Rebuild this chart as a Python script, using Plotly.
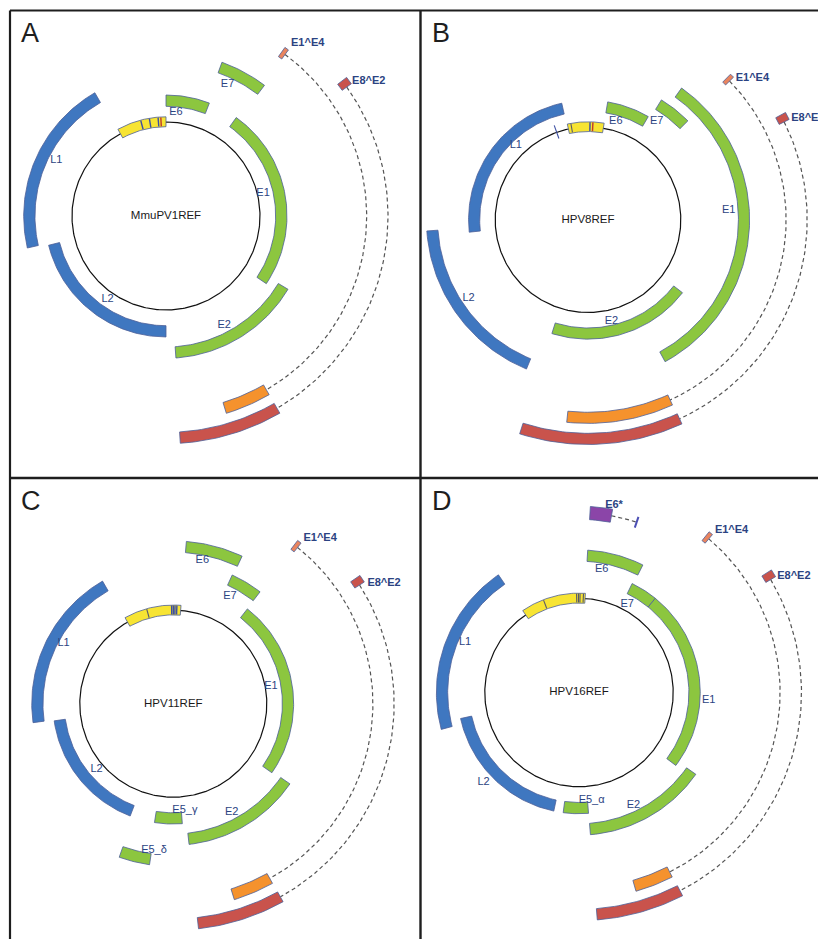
import math
import plotly.graph_objects as go

W, H = 818, 939

# ================= DATA (angles: degrees clockwise from 12 o'clock) =================
# ---- Panel A : MmuPV1REF ----
A_name = "MmuPV1REF"
A_genes = ["E6", "E7", "E1", "E2", "L2", "L1"]
A_start = [0.0, 20.0, 35.5, 121.0, 180.0, 257.0]
A_end = [21.0, 37.0, 124.0, 176.0, 256.0, 330.0]
A_track = [1, 3, 1, 2, 1, 2]
A_label_angle = [5.5, 25.0, 77.0, 152.0, 215.0, 297.0]
A_label_r = [1.11, 1.55, 1.06, 1.32, 1.085, 1.31]
A_urr = [-29.0, 0.0]
A_urr_sites = [-14.8, -9.7, -4.6, -3.0]
A_urr_kind = ["m", "m", "m", "p"]
A_splice = ["E1^E4", "E8^E2"]
A_exon1_start = [35.2, 52.5]
A_exon1_end = [36.4, 54.5]
A_exon2_start = [150.0, 150.0]
A_exon2_end = [163.0, 176.4]
A_splice_track = [5, 6]
A_splice_label_angle = [39.3, 56.4]
A_splice_label_r = [2.38, 2.59]

# ---- Panel B : HPV8REF ----
B_name = "HPV8REF"
B_genes = ["E6", "E7", "E1", "E2", "L2", "L1"]
B_start = [9.5, 31.5, 35.4, 127.7, 202.4, 264.0]
B_end = [30.3, 45.3, 151.5, 197.6, 266.0, 347.3]
B_track = [1, 2, 3, 1, 3, 1]
B_label_angle = [15.8, 35.0, 86.0, 167.0, 236.7, 316.0]
B_label_r = [1.10, 1.29, 1.52, 1.12, 1.54, 1.12]
B_urr = [-12.2, 9.5]
B_urr_sites = [-19.7, -10.1, 1.2, 2.9]
B_urr_kind = ["t", "d", "m", "p"]
B_splice = ["E1^E4", "E8^E2"]
B_exon1_start = [44.4, 61.5]
B_exon1_end = [45.6, 63.5]
B_exon2_start = [155.5, 155.3]
B_exon2_end = [186.0, 197.7]
B_splice_track = [5, 6]
B_splice_label_angle = [49.3, 65.2]
B_splice_label_r = [2.336, 2.61]

# ---- Panel C : HPV11REF ----
C_name = "HPV11REF"
C_genes = ["E6", "E7", "E1", "E2", "E5_γ", "E5_δ", "L2", "L1"]
C_start = [4.6, 24.6, 38.0, 124.5, 175.7, 188.4, 201.0, 262.3]
C_end = [25.0, 37.8, 125.0, 173.6, 189.0, 199.4, 261.8, 330.0]
C_track = [3, 2, 1, 2, 1, 3, 1, 2]
C_label_angle = [11.4, 27.8, 80.0, 151.8, 173.8, 187.5, 229.4, 298.9]
C_label_r = [1.57, 1.30, 1.06, 1.32, 1.15, 1.58, 1.08, 1.34]
C_urr = [-29.3, 4.5]
C_urr_sites = [-15.7, -1.0, 0.0, 1.0, 2.1]
C_urr_kind = ["d", "m", "m", "m", "m"]
C_splice = ["E1^E4", "E8^E2"]
C_exon1_start = [37.3, 55.5]
C_exon1_end = [38.5, 57.5]
C_exon2_start = [151.1, 151.0]
C_exon2_end = [162.7, 173.6]
C_splice_track = [5, 6]
C_splice_label_angle = [41.6, 60.3]
C_splice_label_r = [2.365, 2.595]

# ---- Panel D : HPV16REF ----
D_name = "HPV16REF"
D_genes = ["E6", "E7", "E1", "E2", "E5_α", "L2", "L1"]
D_start = [3.5, 26.0, 39.0, 125.0, 175.5, 192.0, 255.0]
D_end = [26.6, 39.0, 127.0, 175.4, 187.5, 257.6, 325.6]
D_track = [2, 1, 1, 2, 1, 1, 2]
D_label_angle = [10.4, 28.6, 93.6, 154.2, 173.3, 226.8, 293.6]
D_label_r = [1.33, 1.07, 1.38, 1.33, 1.15, 1.39, 1.32]
D_urr = [-34.5, 3.7]
D_urr_sites = [-21.0, -1.4, -0.3, 0.6, 2.6]
D_urr_kind = ["d", "g", "g", "g", "g"]
D_splice = ["E6*", "E1^E4", "E8^E2"]
D_exon1_start = [3.5, 39.0, 57.5]
D_exon1_end = [10.4, 40.2, 59.5]
D_exon2_start = [18.5, 153.2, 153.0]
D_exon2_end = [18.9, 164.0, 175.4]
D_splice_track = [4, 5, 6]
D_splice_label_angle = [10.6, 43.2, 61.5]
D_splice_label_r = [2.02, 2.366, 2.596]

# ================= STYLE / LAYOUT =================
GENE_COLOR = {"L": "#3f77c0", "E": "#8cc63f"}
URR_COLOR = "#f7e433"
SITE_COLOR = {"m": "#3d4fa3", "p": "#c0392b", "d": "#5a5a6a", "g": "#55586a", "t": "#3d4fa3"}
SPLICE_COLOR = {"E1^E4": ("#e9845e", "#f5922d"),
                "E8^E2": ("#c9534c", "#c9534c"),
                "E6*": ("#8b45a8", "#4b4fb5")}
OUTLINE = "#4d5f98"
LABEL_COLOR = "#2b4382"
FONT = "Liberation Sans, Arial, sans-serif"
TRACK_STEP = 0.227
HALF_T = 0.06

panels = [
    dict(letter="A", rect=(11, 11, 419, 477), c=(166.0, 216.0), R=94.0, name=A_name,
         genes=A_genes, start=A_start, end=A_end, track=A_track, la=A_label_angle, lr=A_label_r,
         urr=A_urr, sites=A_urr_sites, kinds=A_urr_kind, sp=A_splice, e1s=A_exon1_start,
         e1e=A_exon1_end, e2s=A_exon2_start, e2e=A_exon2_end, st=A_splice_track,
         sla=A_splice_label_angle, slr=A_splice_label_r),
    dict(letter="B", rect=(422, 11, 818, 477), c=(588.0, 219.7), R=92.8, name=B_name,
         genes=B_genes, start=B_start, end=B_end, track=B_track, la=B_label_angle, lr=B_label_r,
         urr=B_urr, sites=B_urr_sites, kinds=B_urr_kind, sp=B_splice, e1s=B_exon1_start,
         e1e=B_exon1_end, e2s=B_exon2_start, e2e=B_exon2_end, st=B_splice_track,
         sla=B_splice_label_angle, slr=B_splice_label_r),
    dict(letter="C", rect=(11, 479, 419, 939), c=(173.3, 703.7), R=93.5, name=C_name,
         genes=C_genes, start=C_start, end=C_end, track=C_track, la=C_label_angle, lr=C_label_r,
         urr=C_urr, sites=C_urr_sites, kinds=C_urr_kind, sp=C_splice, e1s=C_exon1_start,
         e1e=C_exon1_end, e2s=C_exon2_start, e2e=C_exon2_end, st=C_splice_track,
         sla=C_splice_label_angle, slr=C_splice_label_r),
    dict(letter="D", rect=(422, 479, 818, 939), c=(579.0, 692.5), R=94.2, name=D_name,
         genes=D_genes, start=D_start, end=D_end, track=D_track, la=D_label_angle, lr=D_label_r,
         urr=D_urr, sites=D_urr_sites, kinds=D_urr_kind, sp=D_splice, e1s=D_exon1_start,
         e1e=D_exon1_end, e2s=D_exon2_start, e2e=D_exon2_end, st=D_splice_track,
         sla=D_splice_label_angle, slr=D_splice_label_r),
]


def pt(r, a):
    t = math.radians(a)
    return r * math.sin(t), r * math.cos(t)


def arc_poly(a0, a1, r0, r1):
    n = max(6, int(abs(a1 - a0) / 1.0) + 2)
    angs = [a0 + (a1 - a0) * i / (n - 1) for i in range(n)]
    xs, ys = [], []
    for a in angs:
        x, y = pt(r1, a); xs.append(x); ys.append(y)
    for a in reversed(angs):
        x, y = pt(r0, a); xs.append(x); ys.append(y)
    xs.append(xs[0]); ys.append(ys[0])
    return xs, ys


def arc_line(a0, a1, r):
    n = max(4, int(abs(a1 - a0) / 1.0) + 2)
    xs, ys = [], []
    for i in range(n):
        x, y = pt(r, a0 + (a1 - a0) * i / (n - 1)); xs.append(x); ys.append(y)
    return xs, ys


def track_r(k):
    return 1.0 + TRACK_STEP * k


fig = go.Figure()
layout_axes = {}

for i, p in enumerate(panels, start=1):
    xa = "x" if i == 1 else f"x{i}"
    ya = "y" if i == 1 else f"y{i}"
    x0, y0, x1, y1 = p["rect"]
    cx, cy = p["c"]
    R = p["R"]
    layout_axes["xaxis" if i == 1 else f"xaxis{i}"] = dict(
        domain=[x0 / W, x1 / W], range=[(x0 - cx) / R, (x1 - cx) / R],
        visible=False, fixedrange=True, anchor=ya)
    layout_axes["yaxis" if i == 1 else f"yaxis{i}"] = dict(
        domain=[1 - y1 / H, 1 - y0 / H], range=[(cy - y1) / R, (cy - y0) / R],
        visible=False, fixedrange=True, anchor=xa)
    common = dict(xaxis=xa, yaxis=ya, hoverinfo="skip", showlegend=False)

    # genome circle
    xs, ys = arc_line(0, 360, 1.0)
    fig.add_trace(go.Scatter(x=xs, y=ys, mode="lines", line=dict(color="#111111", width=1.2), **common))

    # URR box
    xs, ys = arc_poly(p["urr"][0], p["urr"][1], 0.95, 1.055)
    fig.add_trace(go.Scatter(x=xs, y=ys, mode="lines", fill="toself", fillcolor=URR_COLOR,
                             line=dict(color=OUTLINE, width=0.8), **common))
    for a, k in zip(p["sites"], p["kinds"]):
        r0, r1 = (0.93, 1.08) if k == "t" else (0.955, 1.05)
        (xa0, ya0), (xa1, ya1) = pt(r0, a), pt(r1, a)
        fig.add_trace(go.Scatter(x=[xa0, xa1], y=[ya0, ya1], mode="lines",
                                 line=dict(color=SITE_COLOR[k], width=1.4 if k in "mp" else 1.1), **common))

    # genes
    for g, s, e, k in zip(p["genes"], p["start"], p["end"], p["track"]):
        rc = track_r(k)
        xs, ys = arc_poly(s, e, rc - HALF_T, rc + HALF_T)
        fig.add_trace(go.Scatter(x=xs, y=ys, mode="lines", fill="toself",
                                 fillcolor=GENE_COLOR[g[0]], line=dict(color=OUTLINE, width=0.8),
                                 name=g, **common))

    # spliced transcripts
    for sname, s1, e1, s2, e2, k in zip(p["sp"], p["e1s"], p["e1e"], p["e2s"], p["e2e"], p["st"]):
        rc = track_r(k)
        c1, c2 = SPLICE_COLOR[sname]
        xs, ys = arc_line(e1, s2, rc)
        fig.add_trace(go.Scatter(x=xs, y=ys, mode="lines",
                                 line=dict(color="#555555", width=1.2, dash="4px,3px"), **common))
        ht = 0.07 if sname == "E6*" else HALF_T
        xs, ys = arc_poly(s1, e1, rc - ht, rc + ht)
        fig.add_trace(go.Scatter(x=xs, y=ys, mode="lines", fill="toself", fillcolor=c1,
                                 line=dict(color=OUTLINE, width=0.8), **common))
        if e2 - s2 < 1.0:
            (xa0, ya0), (xa1, ya1) = pt(rc - HALF_T, (s2 + e2) / 2), pt(rc + HALF_T, (s2 + e2) / 2)
            fig.add_trace(go.Scatter(x=[xa0, xa1], y=[ya0, ya1], mode="lines",
                                     line=dict(color=c2, width=2.0), **common))
        else:
            xs, ys = arc_poly(s2, e2, rc - HALF_T, rc + HALF_T)
            fig.add_trace(go.Scatter(x=xs, y=ys, mode="lines", fill="toself", fillcolor=c2,
                                     line=dict(color=OUTLINE, width=0.8), **common))

    # gene labels
    lx, ly = [], []
    for a, r in zip(p["la"], p["lr"]):
        x, y = pt(r, a); lx.append(x); ly.append(y)
    fig.add_trace(go.Scatter(x=lx, y=ly, mode="text", text=p["genes"], textposition="middle center",
                             textfont=dict(family=FONT, size=11, color=LABEL_COLOR), **common))
    # splice labels
    lx, ly = [], []
    for a, r in zip(p["sla"], p["slr"]):
        x, y = pt(r, a); lx.append(x); ly.append(y)
    fig.add_trace(go.Scatter(x=lx, y=ly, mode="text", text=[f"<b>{t}</b>" for t in p["sp"]],
                             textposition="middle center",
                             textfont=dict(family=FONT, size=11, color=LABEL_COLOR), **common))
    # centre name
    fig.add_trace(go.Scatter(x=[0], y=[0], mode="text", text=[p["name"]], textposition="middle center",
                             textfont=dict(family=FONT, size=11.5, color="#1a1a1a"), **common))

# panel letters
annotations = []
for p in panels:
    x0, y0, _, _ = p["rect"]
    annotations.append(dict(xref="paper", yref="paper", x=(x0 + 8) / W, y=1 - (y0 + 22) / H,
                            xanchor="left", yanchor="middle", text=p["letter"], showarrow=False,
                            font=dict(family=FONT, size=27, color="#1e1e1e")))

# frame lines
LC = "#1e1e1e"
shapes = [
    dict(type="line", xref="paper", yref="paper", x0=10 / W, x1=1, y0=1 - 10.5 / H, y1=1 - 10.5 / H,
         line=dict(color=LC, width=2.2)),
    dict(type="line", xref="paper", yref="paper", x0=10 / W, x1=10 / W, y0=1 - 10.5 / H, y1=0,
         line=dict(color=LC, width=2.2)),
    dict(type="line", xref="paper", yref="paper", x0=420.5 / W, x1=420.5 / W, y0=1 - 10.5 / H, y1=0,
         line=dict(color=LC, width=2.4)),
    dict(type="line", xref="paper", yref="paper", x0=10 / W, x1=1, y0=1 - 478 / H, y1=1 - 478 / H,
         line=dict(color=LC, width=2.4)),
]

fig.update_layout(width=W, height=H, margin=dict(l=0, r=0, t=0, b=0),
                  paper_bgcolor="white", plot_bgcolor="white", showlegend=False,
                  annotations=annotations, shapes=shapes, **layout_axes)

fig.write_html("out.html", config={"displayModeBar": False},
               post_script="document.body.style.margin='0';document.body.style.padding='0';"
                           "document.body.style.overflow='hidden';")
